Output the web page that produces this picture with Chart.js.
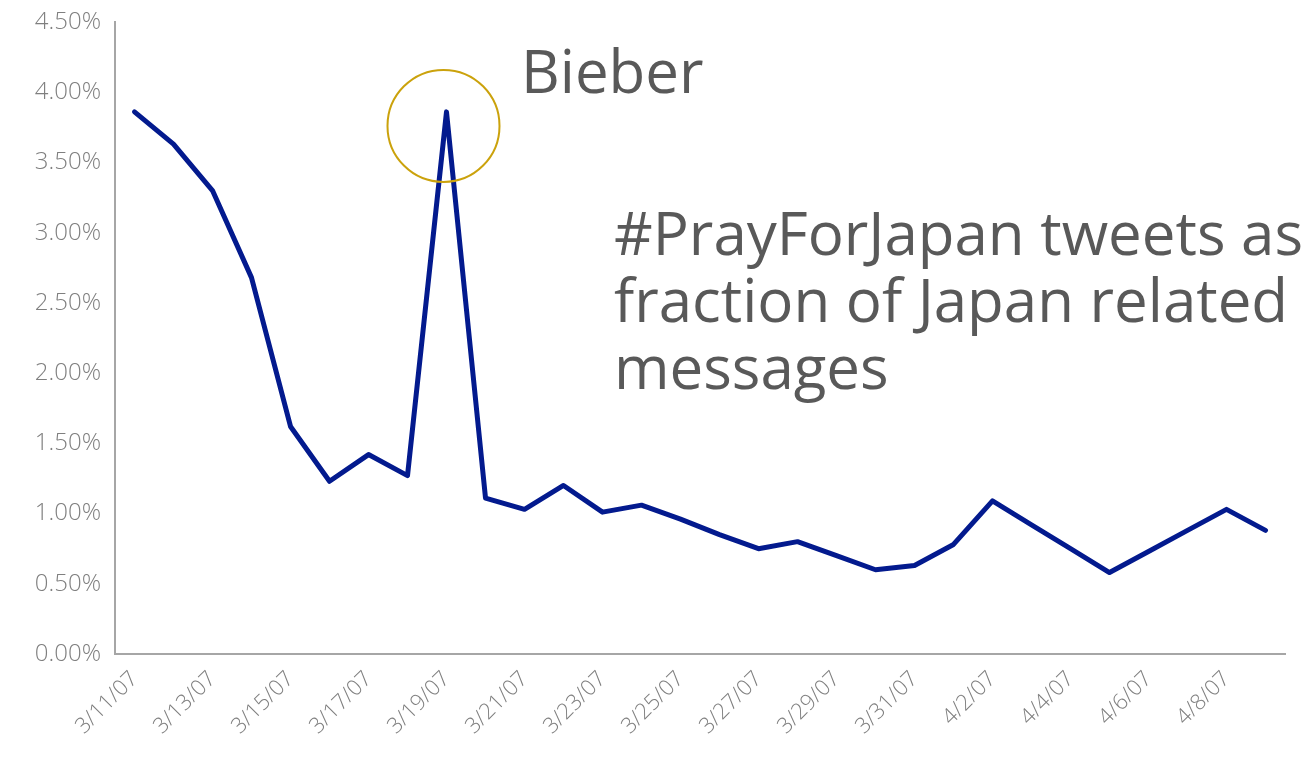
<!DOCTYPE html>
<html>
<head>
<meta charset="utf-8">
<script src="https://cdn.jsdelivr.net/npm/chart.js@4"></script>
<style>
  html, body { margin: 0; padding: 0; background: #fff; }
  #wrap { width: 1315px; height: 757px; position: relative; }
</style>
</head>
<body>
<div id="wrap"><canvas id="chart"></canvas></div>
<script>
// dates, one per day
const days = [
    '3/11/07', '3/12/07', '3/13/07', '3/14/07', '3/15/07', '3/16/07', '3/17/07', '3/18/07',
    '3/19/07', '3/20/07', '3/21/07', '3/22/07', '3/23/07', '3/24/07', '3/25/07', '3/26/07',
    '3/27/07', '3/28/07', '3/29/07', '3/30/07', '3/31/07', '4/1/07', '4/2/07', '4/3/07',
    '4/4/07', '4/5/07', '4/6/07', '4/7/07', '4/8/07', '4/9/07'
];
// #PrayForJapan share of Japan related messages, in percent
const prayShare = [
    3.86, 3.63, 3.30, 2.68, 1.62, 1.23, 1.42, 1.27,
    3.86, 1.11, 1.03, 1.20, 1.01, 1.06, 0.96, 0.85,
    0.75, 0.80, 0.70, 0.60, 0.63, 0.78, 1.09, 0.92,
    0.75, 0.58, 0.73, 0.88, 1.03, 0.88
];
const yTicks = [0, 0.5, 1, 1.5, 2, 2.5, 3, 3.5, 4, 4.5];
const noteTitle = ['#PrayForJapan tweets as', 'fraction of Japan related', 'messages'];
const peakLabel = 'Bieber';
const peakIndex = 8;

const FONT = "'Open Sans', 'Noto Sans', sans-serif";

// circle around the spike + the text notes
const notesPlugin = {
    id: 'notes',
    afterDraw(chart) {
        const ctx = chart.ctx;
        const x = chart.scales.x.getPixelForValue(peakIndex);
        const y = chart.scales.y.getPixelForValue(prayShare[peakIndex]);
        ctx.save();
        ctx.strokeStyle = '#cba20c';
        ctx.lineWidth = 2;
        ctx.beginPath();
        ctx.arc(x - 3, y + 14, 56, 0, Math.PI * 2);
        ctx.stroke();

        ctx.fillStyle = '#595959';
        ctx.font = '60px ' + FONT;
        ctx.textBaseline = 'alphabetic';
        ctx.fillText(peakLabel, 521, 93);
        noteTitle.forEach((t, i) => ctx.fillText(t, 614, 255 + i * 67));
        ctx.restore();
    }
};

new Chart(document.getElementById('chart'), {
    type: 'line',
    data: {
        labels: days,
        datasets: [{
            data: prayShare,
            borderColor: '#031a8e',
            borderWidth: 5,
            borderJoinStyle: 'round',
            borderCapStyle: 'round',
            pointRadius: 0,
            tension: 0,
            fill: false
        }]
    },
    options: {
        responsive: true,
        maintainAspectRatio: false,
        animation: false,
        layout: { padding: { top: 22, right: 30, left: 0, bottom: 0 } },
        plugins: { legend: { display: false }, tooltip: { enabled: false } },
        scales: {
            x: {
                offset: true,
                grid: { display: false, drawTicks: false },
                border: { color: '#a6a6a6', width: 2 },
                ticks: {
                    autoSkip: false,
                    maxRotation: 45,
                    minRotation: 45,
                    padding: 12,
                    color: '#7f7f7f',
                    font: { family: FONT, size: 22, weight: 300 },
                    callback: (v, i) => i % 2 === 0 ? days[i] : ''
                },
                afterFit: s => { s.height = 103; }
            },
            y: {
                min: 0,
                max: 4.5,
                afterBuildTicks: s => { s.ticks = yTicks.map(v => ({ value: v })); },
                grid: { display: false, drawTicks: false },
                border: { color: '#a6a6a6', width: 2 },
                ticks: {
                    padding: 14,
                    color: '#7f7f7f',
                    font: { family: FONT, size: 24, weight: 300 },
                    callback: v => v.toFixed(2) + '%'
                },
                afterFit: s => { s.width = 115; s.paddingTop = 0; s.paddingBottom = 0; }
            }
        }
    },
    plugins: [notesPlugin]
});
</script>
</body>
</html>
